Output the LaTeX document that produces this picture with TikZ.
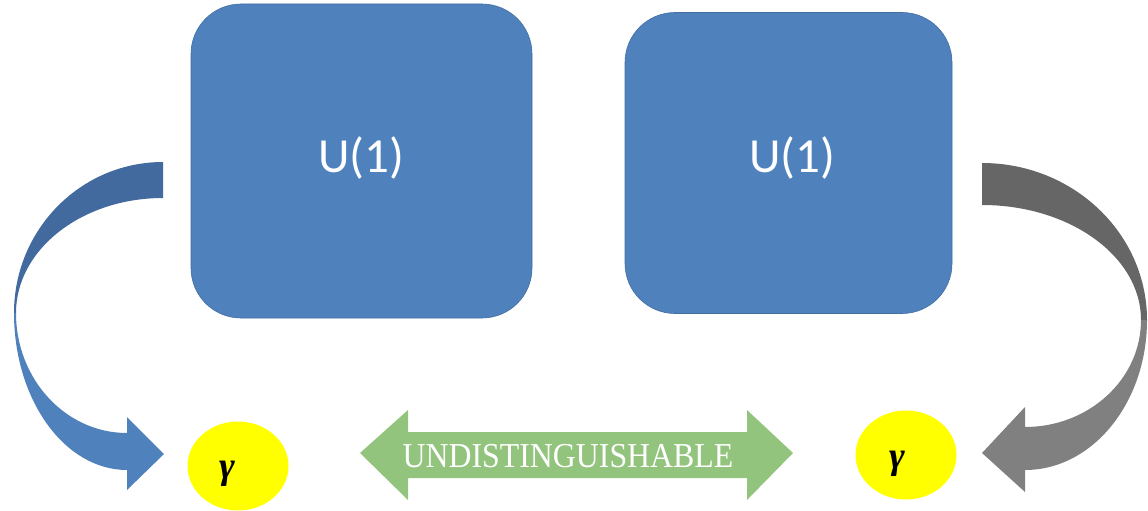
\documentclass[tikz,border=0pt]{standalone}
\usepackage{graphicx}
\usepackage{fontspec}
\newfontfamily\calibfont{Carlito}
\newfontfamily\serifbfont{Liberation Serif}
\usetikzlibrary{shapes.geometric}
\definecolor{boxblue}{RGB}{79,129,189}
\definecolor{darkblue}{RGB}{66,106,158}
\definecolor{darkgray2}{RGB}{102,102,102}
\definecolor{lightgray2}{RGB}{128,128,128}
\definecolor{arrowgreen}{RGB}{147,196,125}
\definecolor{photonyellow}{RGB}{255,255,0}
\begin{document}
\begin{tikzpicture}[x=1pt,y=-1pt,
  ubox/.style={draw=boxblue!85!black, line width=0.6pt, fill=boxblue, rounded corners=50pt, inner sep=0pt},
  utext/.style={text=white, font=\calibfont\fontsize{49}{56}\selectfont, inner sep=0pt},
  photon/.style={ellipse, fill=photonyellow, inner sep=0pt, minimum width=101pt, minimum height=89pt},
  gtext/.style={text=black, inner sep=0pt, font=\serifbfont\bfseries\itshape\fontsize{38}{42}\selectfont}]
\useasboundingbox (0,0) rectangle (1148,511);

% boxes
\node[ubox, minimum width=341pt, minimum height=314pt] (boxL) at (361.5,161) {};
\node[ubox, minimum width=327pt, minimum height=301pt] (boxR) at (788.5,163) {};
\node[utext] (uL) at (361,158) {U(1)};
\node[utext] (uR) at (792,158) {U(1)};

% photons
\node[photon] (gL) at (238,466) {};
\node[photon] (gR) at (906,455) {};
\node[gtext] (gLt) at (227,474) {γ};
\node[gtext] (gRt) at (897,464) {γ};

% left curved arrow
\coordinate (lstart) at (163,162);
\fill[darkblue] (lstart) arc[start angle=270, end angle=180, x radius=149, y radius=151]
  -- (16,313) arc[start angle=180, end angle=270, x radius=147, y radius=115] -- cycle;
\fill[boxblue] (14,313) arc[start angle=180, end angle=90, x radius=113, y radius=157]
  -- (127,490) -- (164,454) -- (127,417) -- (127,433)
  arc[start angle=90, end angle=180, x radius=111, y radius=120] -- cycle;

% right curved arrow
\coordinate (rstart) at (982,163);
\fill[darkgray2] (rstart) arc[start angle=-90, end angle=0, x radius=165, y radius=157]
  -- (1141,320) arc[start angle=0, end angle=-90, x radius=159, y radius=115] -- cycle;
\fill[lightgray2] (1147,320) arc[start angle=0, end angle=90, x radius=122, y radius=150]
  -- (1025,492) -- (982,453) -- (1025,407) -- (1025,427)
  arc[start angle=90, end angle=0, x radius=116, y radius=107] -- cycle;

% double arrow
\fill[arrowgreen] (360,453) -- (408,410) -- (408,432) -- (747,432) -- (747,410)
  -- (793,453) -- (747,500) -- (747,478) -- (408,478) -- (408,500) -- cycle;
\node[text=white, inner sep=0pt, font=\serifbfont\fontsize{35}{40}\selectfont] (undist) at (568,456)
  {\scalebox{0.91}[1]{UNDISTINGUISHABLE}};
\end{tikzpicture}
\end{document}
